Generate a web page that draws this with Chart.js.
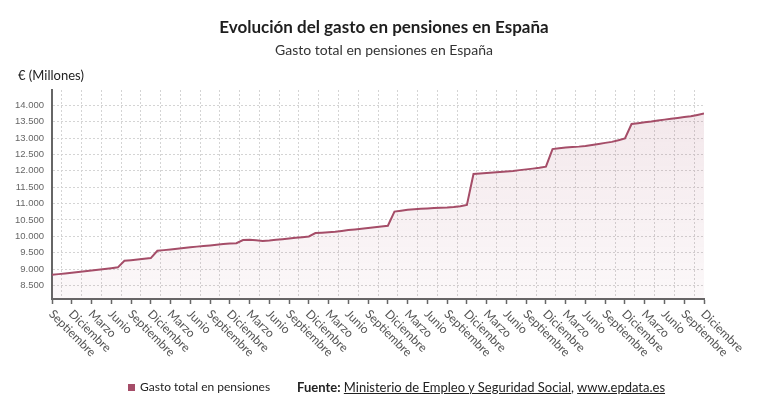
<!DOCTYPE html>
<html lang="es">
<head>
  <meta charset="UTF-8" />
  <title>Evolución del gasto en pensiones en España</title>
  <style>
    body {
      margin: 0;
      background: #ffffff;
      font-family: Lato, "Open Sans", Arial, sans-serif;
      color: #222;
    }
    #wrap {
      position: relative;
      width: 768px;
      height: 417px;
      overflow: hidden;
    }
    canvas { position: absolute; left: 0; top: 0; }
    .txt { position: absolute; white-space: nowrap; }
    #titulo {
      left: 0; width: 768px; top: 16px; line-height: 22px;
      text-align: center; font-weight: bold; font-size: 17px; color: #1e1e1e;
    }
    #subtitulo {
      left: 0; width: 768px; top: 40px; line-height: 20px;
      text-align: center; font-size: 14px; color: #333;
    }
    #unidad { left: 18px; top: 65px; line-height: 20px; font-size: 13px; color: #222; }
    #leyenda { left: 128px; top: 377px; line-height: 20px; font-size: 12px; color: #222; }
    #leyenda .cuadro {
      display: inline-block; width: 7px; height: 7px; background: #a54d68;
      margin-right: 5px; vertical-align: 0px;
    }
    #fuente { left: 297px; top: 377px; line-height: 20px; font-size: 13px; color: #222; }
    #fuente a { color: #222; text-decoration: underline; }
  </style>
</head>
<body>
  <div id="wrap">
    <canvas id="grafico" width="768" height="417"></canvas>
    <div class="txt" id="titulo">Evolución del gasto en pensiones en España</div>
    <div class="txt" id="subtitulo">Gasto total en pensiones en España</div>
    <div class="txt" id="unidad">€ (Millones)</div>
    <div class="txt" id="leyenda"><span class="cuadro"></span>Gasto total en pensiones</div>
    <div class="txt" id="fuente"><b>Fuente:</b> <a>Ministerio de Empleo y Seguridad Social</a>, <a>www.epdata.es</a></div>
  </div>

  <script src="https://cdn.jsdelivr.net/npm/chart.js"></script>
  <script>
    // meses de septiembre 2017 a diciembre 2025 (uno por dato)
    const nombresMes = ["Septiembre", "Octubre", "Noviembre", "Diciembre", "Enero", "Febrero",
      "Marzo", "Abril", "Mayo", "Junio", "Julio", "Agosto"];

    // etiquetas del eje x, una cada tres meses
    const etiquetasEje = [
      "Septiembre", "Diciembre", "Marzo", "Junio", "Septiembre", "Diciembre", "Marzo", "Junio",
      "Septiembre", "Diciembre", "Marzo", "Junio", "Septiembre", "Diciembre", "Marzo", "Junio",
      "Septiembre", "Diciembre", "Marzo", "Junio", "Septiembre", "Diciembre", "Marzo", "Junio",
      "Septiembre", "Diciembre", "Marzo", "Junio", "Septiembre", "Diciembre", "Marzo", "Junio",
      "Septiembre", "Diciembre"
    ];

    // gasto total mensual, millones de euros
    const gasto = [
      8826, 8845, 8866, 8888, 8912, 8932, 8955, 8978, 9002, 9025, 9052, 9253,
      9272, 9292, 9312, 9335, 9558, 9578, 9598, 9620, 9645, 9665, 9685, 9702,
      9722, 9742, 9762, 9781, 9790, 9888, 9893, 9878, 9858, 9872, 9893, 9912,
      9935, 9955, 9975, 9996, 10098, 10110, 10124, 10142, 10165, 10190, 10210, 10230,
      10252, 10274, 10298, 10322, 10756, 10782, 10808, 10828, 10842, 10852, 10862, 10870,
      10880, 10898, 10922, 10958, 11905, 11922, 11937, 11951, 11965, 11980, 11998, 12022,
      12045, 12068, 12095, 12128, 12665, 12690, 12710, 12725, 12740, 12760, 12790, 12822,
      12855, 12885, 12935, 12992, 13430, 13456, 13482, 13506, 13535, 13565, 13594, 13618,
      13642, 13665, 13708, 13755
    ];

    const ticksY = [8500, 9000, 9500, 10000, 10500, 11000, 11500, 12000, 12500, 13000, 13500, 14000];

    const colorLinea = '#a54d68';

    function miles(v) {
      return String(v).replace(/\B(?=(\d{3})+(?!\d))/g, '.');
    }

    const puntos = gasto.map((v, i) => ({ x: i, y: v, mes: nombresMes[i % 12] }));

    // etiquetas giradas bajo el eje x
    const etiquetasX = {
      id: 'etiquetasX',
      afterDraw(chart) {
        const ctx = chart.ctx;
        const sx = chart.scales.x;
        ctx.save();
        ctx.font = '12px Lato, "Open Sans", Arial, sans-serif';
        ctx.fillStyle = '#555';
        ctx.textAlign = 'left';
        ctx.textBaseline = 'middle';
        etiquetasEje.forEach((txt, k) => {
          const x = sx.getPixelForValue(k * 3);
          ctx.save();
          ctx.translate(x - 1, sx.top + 13);
          ctx.rotate(Math.PI / 4);
          ctx.fillText(txt, 0, 0);
          ctx.restore();
        });
        ctx.restore();
      }
    };

    const ctx = document.getElementById('grafico').getContext('2d');
    new Chart(ctx, {
      type: 'line',
      data: {
        datasets: [{
          label: 'Gasto total en pensiones',
          data: puntos,
          borderColor: colorLinea,
          borderWidth: 2,
          pointRadius: 0,
          tension: 0,
          fill: 'start',
          backgroundColor(c) {
            const area = c.chart.chartArea;
            if (!area) return 'rgba(165,77,104,0.08)';
            const g = c.chart.ctx.createLinearGradient(0, area.top, 0, area.bottom);
            g.addColorStop(0, 'rgba(165,77,104,0.14)');
            g.addColorStop(1, 'rgba(165,77,104,0.04)');
            return g;
          }
        }]
      },
      options: {
        responsive: false,
        animation: false,
        layout: { padding: { left: 0, right: 64, top: 90, bottom: 112 } },
        plugins: {
          legend: { display: false },
          title: { display: false },
          tooltip: { enabled: false }
        },
        scales: {
          x: {
            type: 'linear',
            min: 0,
            max: gasto.length - 1,
            afterBuildTicks(scale) {
              const t = [];
              for (let v = 0; v <= gasto.length - 1; v += 1.5) t.push({ value: v });
              scale.ticks = t;
            },
            afterFit(scale) { scale.height = 6; },
            ticks: { display: false },
            grid: {
              color: (c) => (c.tick && c.tick.value % 3 !== 0) ? '#d4d4d4' : 'rgba(0,0,0,0)',
              tickColor: (c) => (c.tick && c.tick.value % 3 === 0) ? '#666' : 'rgba(0,0,0,0)',
              lineWidth: 1,
              tickLength: 5,
              tickWidth: 1.5
            },
            border: { display: true, color: '#666', width: 2, dash: [2, 2] }
          },
          y: {
            min: 8085,
            max: 14470,
            afterBuildTicks(scale) {
              scale.ticks = ticksY.map(v => ({ value: v }));
            },
            afterFit(scale) { scale.width = 52; },
            ticks: {
              padding: 8,
              color: '#666',
              font: { family: 'Arial, "Liberation Sans", sans-serif', size: 9.5 },
              callback: (v) => miles(v)
            },
            grid: { color: '#d4d4d4', lineWidth: 1, drawTicks: false },
            border: { display: true, color: '#666', width: 2, dash: [2, 2] }
          }
        }
      },
      plugins: [etiquetasX]
    });
  </script>
</body>
</html>
